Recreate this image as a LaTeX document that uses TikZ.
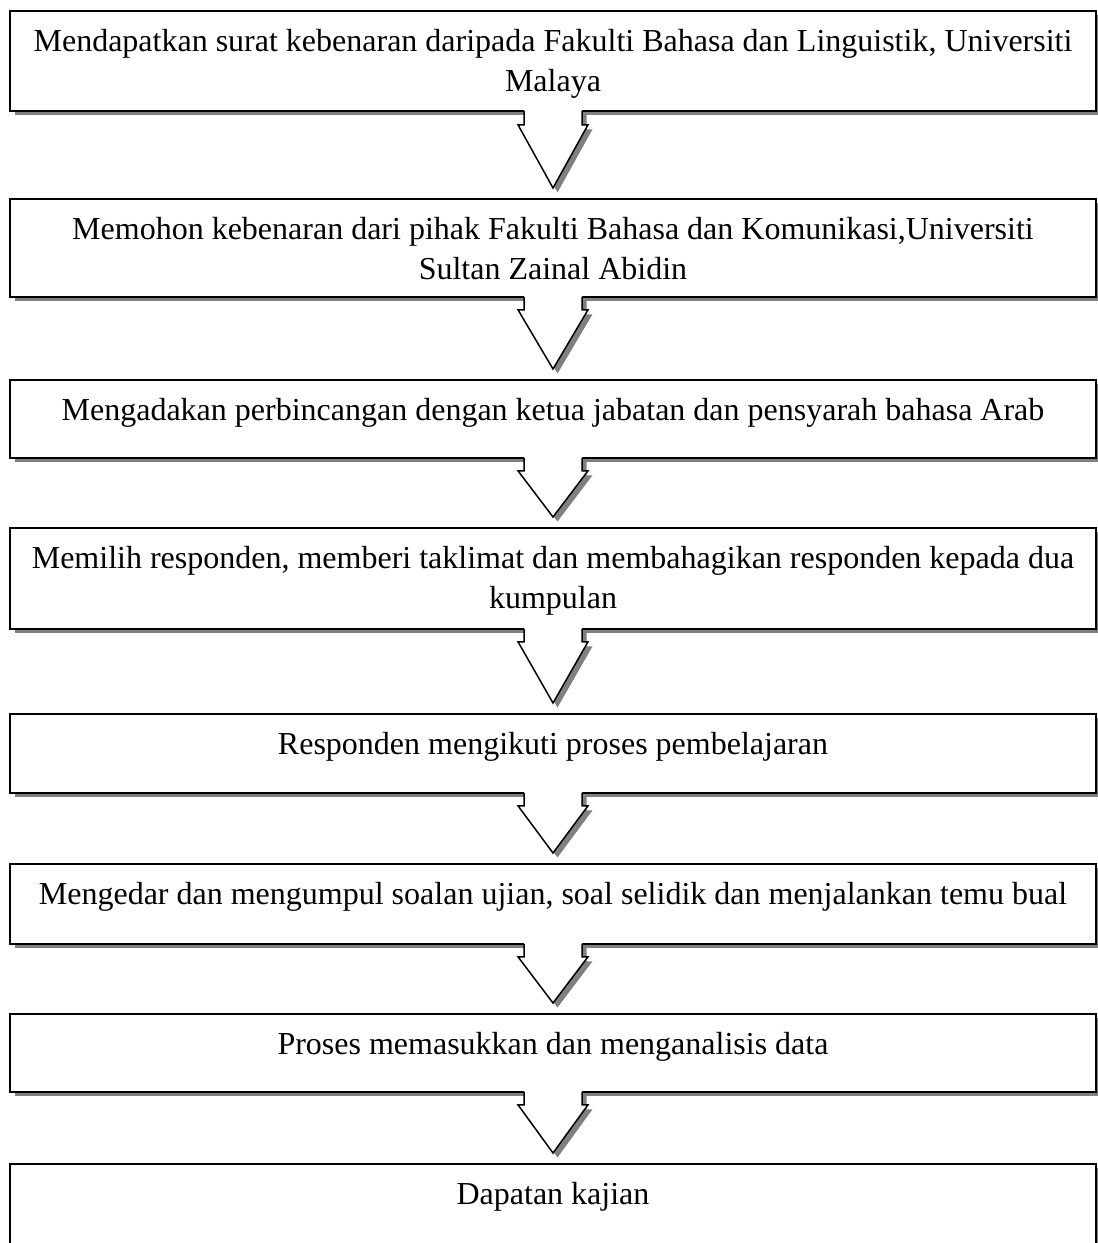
\documentclass[tikz,border=0pt]{standalone}
\usepackage{fontspec}
\setmainfont{Liberation Serif}
\usetikzlibrary{calc,shadows}
\definecolor{shadowgray}{RGB}{128,128,128}
\tikzset{
  flowbox/.style={draw=black, line width=1.8pt, fill=white, minimum width=1086pt, inner sep=0pt, anchor=north,
    drop shadow={shadow xshift=4.5pt, shadow yshift=-4.5pt, fill=shadowgray, opacity=1}},
  flowtext/.style={anchor=north, align=center, inner sep=0pt, font=\fontsize{32}{40}\selectfont},
  arrowline/.style={draw=black, line width=1.5pt, line join=miter}
}
% #1 upper box, #2 lower box, #3 stem length
\newcommand{\flowarrow}[3]{%
  \fill[shadowgray] ($(#1.south)+(-24.5,2.7)$) -- ($(#1.south)+(-24.5,#3+4.5)$) -- ($(#1.south)+(-30.5,#3+4.5)$) -- ($(#2.north)+(4.5,-5.5)$) -- ($(#1.south)+(39.5,#3+4.5)$) -- ($(#1.south)+(33.5,#3+4.5)$) -- ($(#1.south)+(33.5,2.7)$) -- cycle;
  \fill[white] ($(#1.south)+(-29,-1.8)$) -- ($(#1.south)+(-29,#3)$) -- ($(#1.south)+(-35,#3)$) -- ($(#2.north)+(0,-10)$) -- ($(#1.south)+(35,#3)$) -- ($(#1.south)+(29,#3)$) -- ($(#1.south)+(29,-1.8)$) -- cycle;
  \draw[arrowline] ($(#1.south)+(-29,-0.9)$) -- ($(#1.south)+(-29,#3)$) -- ($(#1.south)+(-35,#3)$) -- ($(#2.north)+(0,-10)$) -- ($(#1.south)+(35,#3)$) -- ($(#1.south)+(29,#3)$) -- ($(#1.south)+(29,-0.9)$);
}
\begin{document}
\begin{tikzpicture}[x=1pt,y=-1pt]
\useasboundingbox (0,0) rectangle (1098,1243);
\clip (0,0) rectangle (1098,1243);
% boxes
\node[flowbox, minimum height=100pt] (b1) at (553,10) {};
\node[flowbox, minimum height=98pt] (b2) at (553,198) {};
\node[flowbox, minimum height=78pt] (b3) at (553,379) {};
\node[flowbox, minimum height=101pt] (b4) at (553,527) {};
\node[flowbox, minimum height=79pt] (b5) at (553,713) {};
\node[flowbox, minimum height=80pt] (b6) at (553,863) {};
\node[flowbox, minimum height=78pt] (b7) at (553,1013) {};
\node[flowbox, minimum height=130pt] (b8) at (553,1163) {};
% texts
\node[flowtext] (t1) at ($(b1.north)+(0,13)$) {\strut Mendapatkan surat kebenaran daripada Fakulti Bahasa dan Linguistik, Universiti\\Malaya};
\node[flowtext] (t2) at ($(b2.north)+(0,13)$) {\strut Memohon kebenaran dari pihak Fakulti Bahasa dan Komunikasi,Universiti\\Sultan Zainal Abidin};
\node[flowtext] (t3) at ($(b3.north)+(0,13)$) {\strut Mengadakan perbincangan dengan ketua jabatan dan pensyarah bahasa Arab};
\node[flowtext] (t4) at ($(b4.north)+(0,13)$) {\strut Memilih responden, memberi taklimat dan membahagikan responden kepada dua\\kumpulan};
\node[flowtext] (t5) at ($(b5.north)+(0,13)$) {\strut Responden mengikuti proses pembelajaran};
\node[flowtext] (t6) at ($(b6.north)+(0,13)$) {\strut Mengedar dan mengumpul soalan ujian, soal selidik dan menjalankan temu bual};
\node[flowtext] (t7) at ($(b7.north)+(0,13)$) {\strut Proses memasukkan dan menganalisis data};
\node[flowtext] (t8) at ($(b8.north)+(0,13)$) {\strut Dapatan kajian};
% arrows
\flowarrow{b1}{b2}{13}
\flowarrow{b2}{b3}{12}
\flowarrow{b3}{b4}{12}
\flowarrow{b4}{b5}{12}
\flowarrow{b5}{b6}{12}
\flowarrow{b6}{b7}{12}
\flowarrow{b7}{b8}{12}
\end{tikzpicture}
\end{document}
